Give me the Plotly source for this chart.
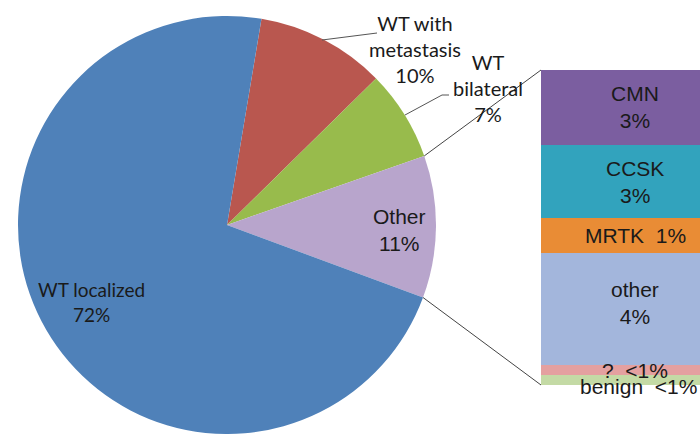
import math
import plotly.graph_objects as go

W, H = 730, 434
OFF = 0

# ---- data ----
pie_labels = ["WT with metastasis", "WT bilateral", "Other", "WT localized"]
pie_values = [10, 7, 11, 72]
pie_colors = ["#b9574f", "#98bb4c", "#b8a5cc", "#4f81b9"]
pie_text = ["WT with<br>metastasis<br>10%", "WT<br>bilateral<br>7%", "Other<br>11%", "WT localized<br>72%"]

bar_labels = ["CMN", "CCSK", "MRTK", "other", "?", "benign"]
bar_values = [2.6, 2.55, 1.2, 3.9, 0.35, 0.35]
bar_colors = ["#7b5ea0", "#32a3bd", "#e98c35", "#a3b6dc", "#e4a0a0", "#c4daa5"]
bar_text = ["CMN<br>3%", "CCSK<br>3%", "MRTK  1%", "other<br>4%", "?  <1%", "benign  <1%"]

rotation = 9.5

# ---- geometry (screenshot pixels) ----
cx, cy, r = 227, 225, 209
bar_left, bar_right, bar_top, bar_bottom = 541, 729, 70, 385


def fx(x):
    return (x - OFF) / W


def fy(y):
    return 1 - (y - OFF) / H


def px(x, y):
    return fx(x), fy(y)


fig = go.Figure()

fig.add_trace(go.Pie(
    labels=pie_labels, values=pie_values, sort=False, direction="clockwise",
    rotation=rotation, marker=dict(colors=pie_colors, line=dict(width=0)),
    textinfo="none", showlegend=False,
    domain=dict(x=[fx(cx - r), fx(cx + r)], y=[max(0, fy(cy + r)), fy(cy - r)]),
))

# stacked bar, bottom segment first
total = sum(bar_values)
cum = 0
stack_order = list(range(len(bar_values)))[::-1]
mids = {}
for i in stack_order:
    fig.add_trace(go.Bar(
        x=[0], y=[bar_values[i]], width=[1], marker=dict(color=bar_colors[i], line=dict(width=0)),
        xaxis="x", yaxis="y", showlegend=False, name=bar_labels[i], hoverinfo="name",
    ))
    mids[i] = cum + bar_values[i] / 2
    cum += bar_values[i]

fig.update_layout(
    barmode="stack",
    width=W, height=H,
    margin=dict(l=0, r=0, t=0, b=0),
    paper_bgcolor="white", plot_bgcolor="white",
    xaxis=dict(domain=[fx(bar_left), min(1, fx(bar_right))], range=[-0.5, 0.5], visible=False, fixedrange=True),
    yaxis=dict(domain=[fy(bar_bottom), fy(bar_top)], range=[0, total], visible=False, fixedrange=True),
)

font = "Liberation Sans, Arial, sans-serif"
lato = "Lato, Carlito, sans-serif"
ann = []
# bar labels
yshifts = {0: 0, 1: -1, 3: 6, 4: -1, 5: -7}
for i in range(len(bar_values)):
    ann.append(dict(x=0, y=mids[i], xref="x", yref="y", text=bar_text[i], showarrow=False,
                    xanchor="center", yanchor="middle",
                    font=dict(family=font, size=21, color="#1a1a1a"),
                    xshift=(3 if i == 5 else 0), yshift=yshifts.get(i, 0)))

# pie labels
pie_pos = [(415, 49), (488, 88), (399, 230), (91, 302)]
pie_fonts = [lato, lato, font, lato]
pie_sizes = [20, 20, 21, 19]
for i, (x, y) in enumerate(pie_pos):
    ax, ay = px(x, y)
    ann.append(dict(x=ax, y=ay, xref="paper", yref="paper", text=pie_text[i], showarrow=False,
                    xanchor="center", yanchor="middle",
                    font=dict(family=pie_fonts[i], size=pie_sizes[i], color="#1a1a1a")))
fig.update_layout(annotations=ann)

# connector lines from pie "Other" slice edges to bar corners
def edge(frac):
    a = math.radians(rotation + 360 * frac)
    return cx + r * math.sin(a), cy - r * math.cos(a)

tot = sum(pie_values)
a1 = edge((pie_values[0] + pie_values[1]) / tot)
a2 = edge((pie_values[0] + pie_values[1] + pie_values[2]) / tot)
shapes = []
for (x0, y0), (x1, y1) in [(a1, (bar_left, bar_top)), (a2, (bar_left, bar_bottom))]:
    p0, p1 = px(x0, y0), px(x1, y1)
    shapes.append(dict(type="line", xref="paper", yref="paper", x0=p0[0], y0=p0[1], x1=p1[0], y1=p1[1],
                       line=dict(color="#444444", width=1)))
# leader lines
for pts in [[(322, 40), (377, 33)], [(405, 115), (442, 95), (449, 95)]]:
    for (x0, y0), (x1, y1) in zip(pts[:-1], pts[1:]):
        p0, p1 = px(x0, y0), px(x1, y1)
        shapes.append(dict(type="line", xref="paper", yref="paper", x0=p0[0], y0=p0[1], x1=p1[0], y1=p1[1],
                           line=dict(color="#555555", width=1)))
fig.update_layout(shapes=shapes)

fig.write_html(
    "out.html",
    config={"displayModeBar": False},
    post_script="document.body.style.margin='0px';document.body.style.overflow='hidden';",
)
